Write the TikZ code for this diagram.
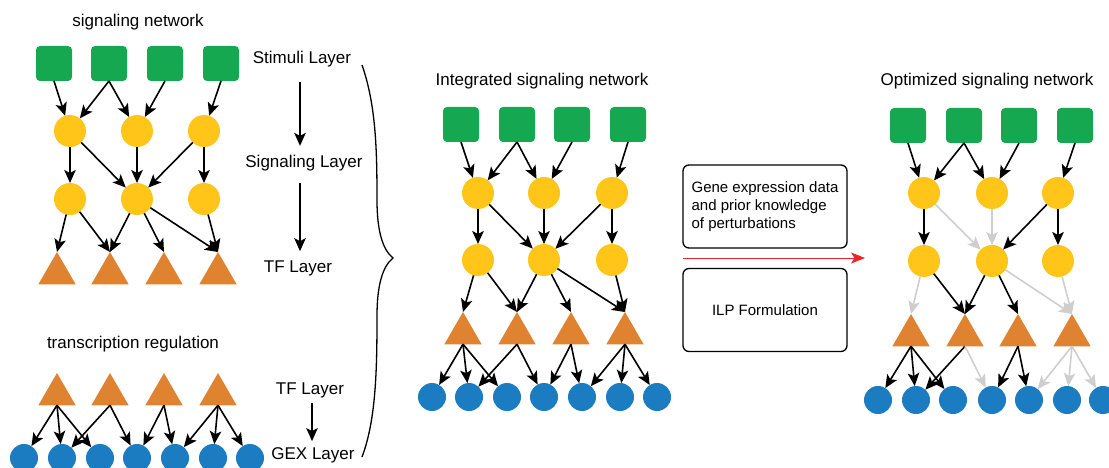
\documentclass[tikz,border=0pt]{standalone}
\usepackage{fontspec}
\setmainfont{Liberation Sans}
\usetikzlibrary{shapes.geometric,arrows.meta}

\definecolor{stimgreen}{RGB}{22,168,80}
\definecolor{siggold}{RGB}{255,198,25}
\definecolor{tforange}{RGB}{224,131,48}
\definecolor{gexblue}{RGB}{27,124,193}
\definecolor{offgray}{RGB}{206,206,206}
\definecolor{flowred}{RGB}{232,38,42}

\tikzset{
  stim/.style={rectangle, rounded corners=4pt, fill=stimgreen,
    minimum width=36pt, minimum height=35pt, inner sep=0pt, outer sep=0pt},
  sig/.style={circle, fill=siggold, minimum size=32pt, inner sep=0pt, outer sep=0pt},
  tf/.style={regular polygon, regular polygon sides=3, fill=tforange,
    minimum size=43pt, inner sep=0pt, outer sep=0pt},
  gex/.style={circle, fill=gexblue, minimum size=28pt, inner sep=0pt, outer sep=0pt},
  tipshape/.style={-{Stealth[length=13pt,width=11.5pt,inset=3pt]}},
  netlink/.style={draw=black, line width=1.6pt, tipshape},
  lbl/.style={font=\fontsize{17pt}{20pt}\selectfont, inner sep=0pt},
  note/.style={draw=black, line width=1.3pt, rounded corners=6pt,
    minimum width=164pt, minimum height=83pt, align=left,
    font=\fontsize{15pt}{18pt}\selectfont},
}

\begin{document}
\begin{tikzpicture}[x=1pt,y=-1pt]
\useasboundingbox (0,0) rectangle (1109,468);

% ---------- signaling network (left, top) ----------
\node[lbl] (ttl-sig) at (138,22) {signaling network};
\foreach \x [count=\i] in {54,109,165,221} \node[stim] (L-S\i) at (\x,63.5) {};
\foreach \x [count=\i] in {70,137,204} \node[sig] (L-Y\i) at (\x,131) {};
\foreach \x [count=\i] in {70,137,204} \node[sig] (L-Z\i) at (\x,199) {};
\foreach \x [count=\i] in {57,110,164,218} \node[tf] (L-T\i) at (\x,273.5) {};

\foreach \a/\b in {1/1,2/1,2/2,3/2,4/3} \draw[netlink] (L-S\a.south) -- (L-Y\b);
\foreach \a/\b in {1/1,1/2,2/2,3/2,3/3} \draw[netlink] (L-Y\a) -- (L-Z\b);
\foreach \a/\b in {1/1,1/2,2/2,2/3,2/4,3/4} \draw[netlink] (L-Z\a) -- (L-T\b.corner 1);

\node[lbl] (l-stim) at (302,59) {Stimuli Layer};
\node[lbl] (l-sig) at (304,163) {Signaling Layer};
\node[lbl] (l-tf) at (298,268) {TF Layer};
\draw[netlink, shorten <=15pt, shorten >=9pt] (l-stim.south -| 300,0) -- (l-sig.north -| 300,0);
\draw[netlink, shorten <=12pt, shorten >=9pt] (l-sig.south -| 300,0) -- (l-tf.north -| 300,0);

% ---------- transcription regulation (left, bottom) ----------
\node[lbl] (ttl-tr) at (133,344) {transcription regulation};
\foreach \x [count=\i] in {57,110,164,218} \node[tf] (B-T\i) at (\x,394.5) {};
\foreach \x [count=\i] in {24,62,100,137,175,213,250} \node[gex] (B-G\i) at (\x,458) {};
\foreach \a/\b in {1/1,1/2,1/3,2/2,2/4,3/4,3/5,4/5,4/6,4/7}
  \draw[netlink] (B-T\a.side 2) -- (B-G\b);

\node[lbl] (b-tf) at (310,390) {TF Layer};
\node[lbl] (b-gex) at (313,455) {GEX Layer};
\draw[netlink, shorten <=5pt, shorten >=6pt] (b-tf.south -| 312,0) -- (b-gex.north -| 312,0);

% ---------- joining brace ----------
\draw[line width=1.3pt]
  (362,65) .. controls (376,105) and (377,150) .. (377,200)
  .. controls (377,232) and (383,250) .. (393,258)
  .. controls (383,266) and (377,284) .. (377,316)
  .. controls (377,370) and (376,420) .. (362,457);

% ---------- integrated signaling network (middle) ----------
\node[lbl] (ttl-int) at (542,81) {Integrated signaling network};
\foreach \x [count=\i] in {461,517,572,628} \node[stim] (M-S\i) at (\x,124.5) {};
\foreach \x [count=\i] in {478,544,612} \node[sig] (M-Y\i) at (\x,193) {};
\foreach \x [count=\i] in {478,544,612} \node[sig] (M-Z\i) at (\x,260) {};
\foreach \x [count=\i] in {463,517,571,625} \node[tf] (M-T\i) at (\x,333.5) {};
\foreach \x [count=\i] in {432,469,507,544,582,620,657} \node[gex] (M-G\i) at (\x,397) {};

\foreach \a/\b in {1/1,2/1,2/2,3/2,4/3} \draw[netlink] (M-S\a.south) -- (M-Y\b);
\foreach \a/\b in {1/1,1/2,2/2,3/2,3/3} \draw[netlink] (M-Y\a) -- (M-Z\b);
\foreach \a/\b in {1/1,1/2,2/2,2/3,2/4,3/4} \draw[netlink] (M-Z\a) -- (M-T\b.corner 1);
\foreach \a/\b in {1/1,1/2,1/3,2/2,2/4,3/4,3/5,4/5,4/6,4/7}
  \draw[netlink] (M-T\a.side 2) -- (M-G\b);

% ---------- optimisation step ----------
\node[note] (data) at (765,206.5) {Gene expression data\\and prior knowledge\\of perturbations};
\node[note] (ilp) at (765,310) {ILP Formulation};
\coordinate (flow-a) at (683,258);
\coordinate (flow-b) at (865,258);
\draw[draw=flowred, line width=1pt, -{Stealth[length=14pt,width=11pt,inset=3.5pt]}] (flow-a) -- (flow-b);

% ---------- optimized signaling network (right) ----------
\node[lbl] (ttl-opt) at (987,81) {Optimized signaling network};
\foreach \x [count=\i] in {908,964,1019,1075} \node[stim] (R-S\i) at (\x,125.5) {};
\foreach \x [count=\i] in {924,992,1058} \node[sig] (R-Y\i) at (\x,193) {};
\foreach \x [count=\i] in {924,992,1058} \node[sig] (R-Z\i) at (\x,261) {};
\foreach \x [count=\i] in {911,965,1018,1072} \node[tf] (R-T\i) at (\x,335.5) {};
\foreach \x [count=\i] in {878,916,953,992,1029,1067,1103} \node[gex] (R-G\i) at (\x,400) {};

\foreach \a/\b in {1/1,2/1,2/2,3/2,4/3} \draw[netlink] (R-S\a.south) -- (R-Y\b);
\foreach \a/\b/\c in {1/1/black,1/2/offgray,2/2/offgray,3/2/black,3/3/black}
  \draw[netlink, draw=\c] (R-Y\a) -- (R-Z\b);
\foreach \a/\b/\c in {1/1/offgray,1/2/black,2/2/black,2/3/black,2/4/offgray,3/4/offgray}
  \draw[netlink, draw=\c] (R-Z\a) -- (R-T\b.corner 1);
\foreach \a/\b/\c in {1/1/black,1/2/black,1/3/black,2/2/black,2/4/offgray,3/4/black,3/5/black,4/5/offgray,4/6/offgray,4/7/offgray}
  \draw[netlink, draw=\c] (R-T\a.side 2) -- (R-G\b);
\end{tikzpicture}
\end{document}
